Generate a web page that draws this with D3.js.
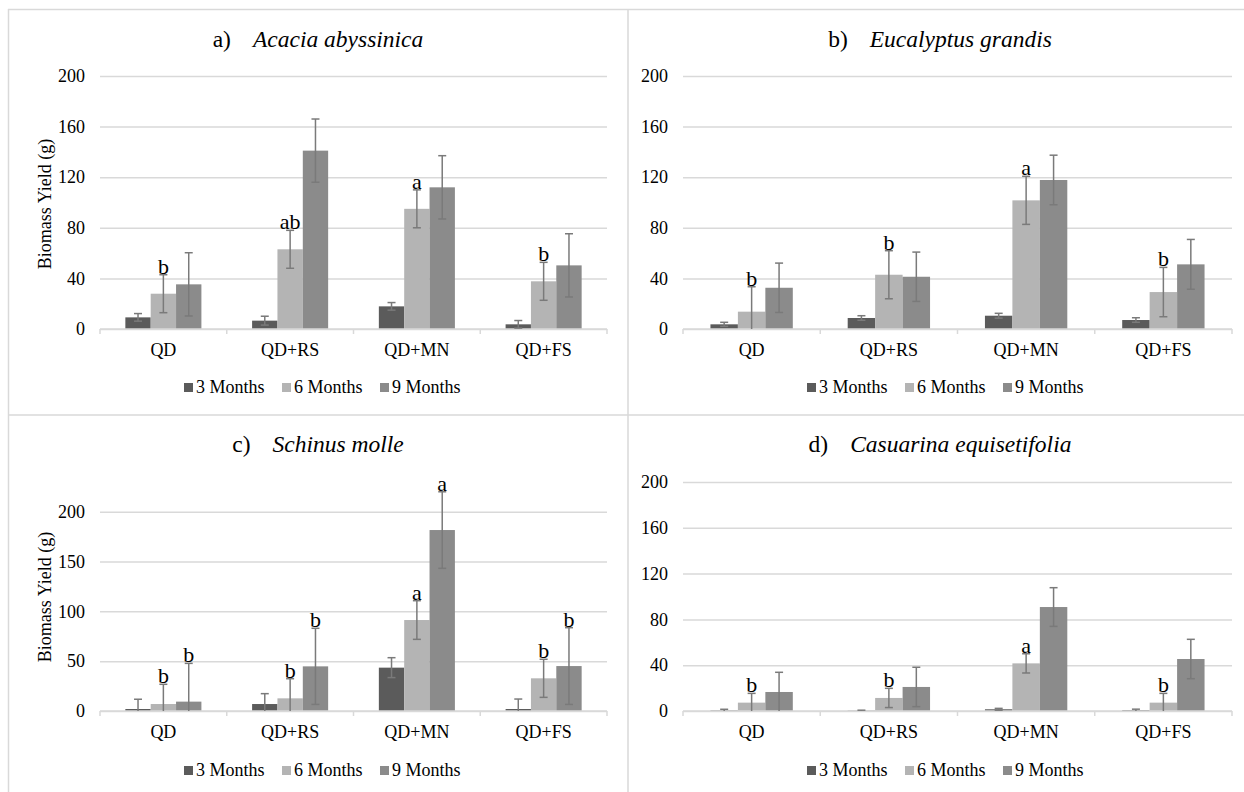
<!DOCTYPE html>
<html>
<head>
<meta charset="utf-8">
<script src="https://cdn.jsdelivr.net/npm/d3@7"></script>
<style>
  body { margin: 0; background: #fff; }
</style>
</head>
<body>
<div id="chart"></div>
<script>
// categories and series
var categories = ["QD", "QD+RS", "QD+MN", "QD+FS"];
var seriesNames = ["3 Months", "6 Months", "9 Months"];
var seriesColors = ["#5b5b5b", "#b4b4b4", "#8b8b8b"];

// tick labels
var ticks40 = [0, 40, 80, 120, 160, 200];
var ticks50 = [0, 50, 100, 150, 200];

// a) Acacia abyssinica  (rows = categories, cols = 3/6/9 months)
var acaciaMeans = [[9.2, 27.9, 35.3], [6.6, 63, 141], [17.9, 95, 112], [3.7, 37.7, 50.3]];
var acaciaErr = [[3, 15, 25], [3.5, 15, 25], [3, 15, 25], [3, 15, 25]];
var acaciaLetters = [["", "b", ""], ["", "ab", ""], ["", "a", ""], ["", "b", ""]];

// b) Eucalyptus grandis
var eucaMeans = [[3.7, 13.7, 32.6], [8.7, 42.9, 41.3], [10.5, 101.7, 117.8], [7.1, 29.2, 51.1]];
var eucaErr = [[1.6, 19.7, 19.5], [1.8, 19, 19.5], [1.9, 19, 19.6], [1.8, 19.5, 19.7]];
var eucaLetters = [["", "b", ""], ["", "b", ""], ["", "a", ""], ["", "b", ""]];

// c) Schinus molle
var schinusMeans = [[2, 7, 9.4], [7, 12.7, 44.8], [43.5, 91.3, 181.6], [2, 32.8, 45.1]];
var schinusErr = [[9.8, 19.8, 38.4], [10.4, 19.7, 38.2], [10, 19.4, 38.4], [10, 19.1, 38.5]];
var schinusLetters = [["", "b", "b"], ["", "b", "b"], ["", "a", "a"], ["", "b", "b"]];

// d) Casuarina equisetifolia
var casuMeans = [[0.5, 7.3, 16.6], [0.3, 11.4, 21], [1.5, 41.6, 90.8], [0.8, 7.3, 45.4]];
var casuErr = [[1, 8.1, 17.2], [0.4, 8.4, 17.2], [0.8, 8.4, 16.9], [0.8, 8.1, 17.2]];
var casuLetters = [["", "b", ""], ["", "b", ""], ["", "a", ""], ["", "b", ""]];

var W = 1244, H = 792;
var grid = "#d9d9d9";
var serif = "Liberation Serif";

var svg = d3.select("#chart").append("svg")
    .attr("width", W)
    .attr("height", H)
    .attr("font-family", serif);

// every text gets the serif face explicitly
function txt(sel, size) {
  return sel.attr("font-family", serif)
      .style("font-family", serif)
      .style("font-size", size + "px")
      .attr("fill", "#000");
}

// panel frame lines
var frame = svg.append("g").attr("stroke", grid).attr("stroke-width", 1.5);
frame.append("line").attr("x1", 8).attr("x2", W).attr("y1", 9.5).attr("y2", 9.5);
frame.append("line").attr("x1", 8.5).attr("x2", 8.5).attr("y1", 9).attr("y2", H);
frame.append("line").attr("x1", 628).attr("x2", 628).attr("y1", 9).attr("y2", H);
frame.append("line").attr("x1", 8).attr("x2", W).attr("y1", 415).attr("y2", 415);

var panels = [
  {label: "a)", name: "Acacia abyssinica", means: acaciaMeans, errs: acaciaErr, letters: acaciaLetters,
   ticks: ticks40, yTitle: true, x0: 100, x1: 607, y0: 329, yTop: 76, cx: 318, legCx: 322,
   titleY: 47, catY: 356, legY: 393, yTitleY: 204},
  {label: "b)", name: "Eucalyptus grandis", means: eucaMeans, errs: eucaErr, letters: eucaLetters,
   ticks: ticks40, yTitle: false, x0: 683, x1: 1232, y0: 329, yTop: 76, cx: 940, legCx: 945,
   titleY: 47, catY: 356, legY: 393},
  {label: "c)", name: "Schinus molle", means: schinusMeans, errs: schinusErr, letters: schinusLetters,
   ticks: ticks50, yTitle: true, x0: 100, x1: 607, y0: 711, yTop: 511.7, cx: 318, legCx: 322,
   titleY: 452, catY: 738, legY: 776, yTitleY: 597},
  {label: "d)", name: "Casuarina equisetifolia", means: casuMeans, errs: casuErr, letters: casuLetters,
   ticks: ticks40, yTitle: false, x0: 683, x1: 1232, y0: 711, yTop: 482, cx: 940, legCx: 945,
   titleY: 452, catY: 738, legY: 776}
];

panels.forEach(drawPanel);

function drawPanel(p) {
  var g = svg.append("g");

  var x = d3.scaleBand().domain(categories).range([p.x0, p.x1]);
  var xs = d3.scaleBand().domain(seriesNames).range([0, x.bandwidth()])
      .paddingInner(0).paddingOuter(1);
  var y = d3.scaleLinear().domain([0, 200]).range([p.y0, p.yTop]);

  // title
  var t = txt(g.append("text"), 23.5)
      .attr("x", p.cx).attr("y", p.titleY)
      .attr("text-anchor", "middle");
  t.append("tspan").text(p.label);
  t.append("tspan").attr("dx", 22).style("font-style", "italic").text(p.name);

  // gridlines + y labels
  var yAxis = g.append("g")
      .attr("transform", "translate(" + p.x0 + ",0)")
      .call(d3.axisLeft(y).tickValues(p.ticks).tickSize(-(p.x1 - p.x0)).tickPadding(15));
  yAxis.attr("font-family", serif);
  yAxis.select(".domain").remove();
  yAxis.selectAll(".tick line").attr("stroke", grid).attr("stroke-width", 1.5);
  txt(yAxis.selectAll(".tick text"), 18);

  if (p.yTitle) {
    txt(g.append("text"), 18)
        .attr("transform", "translate(45," + p.yTitleY + ") rotate(-90)")
        .attr("text-anchor", "middle")
        .attr("dominant-baseline", "central")
        .text("Biomass Yield (g)");
  }

  // bars
  var rows = [];
  categories.forEach(function(c, i) {
    seriesNames.forEach(function(s, j) {
      rows.push({cat: c, s: s, j: j, v: p.means[i][j], e: p.errs[i][j], letter: p.letters[i][j]});
    });
  });

  g.selectAll("rect.bar")
      .data(rows)
      .enter().append("rect")
      .attr("class", "bar")
      .attr("x", function(d) { return x(d.cat) + xs(d.s); })
      .attr("y", function(d) { return y(d.v); })
      .attr("width", xs.bandwidth())
      .attr("height", function(d) { return y(0) - y(d.v); })
      .attr("fill", function(d) { return seriesColors[d.j]; });

  // axis line with category boundary ticks
  g.append("line")
      .attr("x1", p.x0).attr("x2", p.x1)
      .attr("y1", y(0)).attr("y2", y(0))
      .attr("stroke", grid).attr("stroke-width", 1.5);
  var bounds = categories.map(function(c) { return x(c); }).concat([p.x1]);
  g.selectAll("line.btick")
      .data(bounds)
      .enter().append("line")
      .attr("x1", function(d) { return d; }).attr("x2", function(d) { return d; })
      .attr("y1", y(0)).attr("y2", y(0) + 5)
      .attr("stroke", grid).attr("stroke-width", 1.5);

  // category labels
  txt(g.selectAll("text.cat")
      .data(categories)
      .enter().append("text"), 18)
      .attr("x", function(d) { return x(d) + x.bandwidth() / 2; })
      .attr("y", p.catY)
      .attr("text-anchor", "middle")
      .text(function(d) { return d; });

  // error bars
  var eb = g.selectAll("g.err")
      .data(rows)
      .enter().append("g")
      .attr("stroke", "#7a7a7a")
      .attr("stroke-width", 1.5);
  eb.each(function(d) {
    var cx = x(d.cat) + xs(d.s) + xs.bandwidth() / 2;
    var lo = Math.max(0, d.v - d.e), hi = d.v + d.e;
    var e = d3.select(this);
    e.append("line").attr("x1", cx).attr("x2", cx).attr("y1", y(lo)).attr("y2", y(hi));
    e.append("line").attr("x1", cx - 4).attr("x2", cx + 4).attr("y1", y(hi)).attr("y2", y(hi));
    if (d.v - d.e > 0) {
      e.append("line").attr("x1", cx - 4).attr("x2", cx + 4).attr("y1", y(lo)).attr("y2", y(lo));
    }
  });

  // significance letters
  txt(g.selectAll("text.letter")
      .data(rows.filter(function(d) { return d.letter; }))
      .enter().append("text"), 22)
      .attr("x", function(d) { return x(d.cat) + xs(d.s) + xs.bandwidth() / 2; })
      .attr("y", function(d) { return y(d.v + d.e) - 1; })
      .attr("text-anchor", "middle")
      .text(function(d) { return d.letter; });

  // legend
  var step = 98;
  var leg = g.append("g");
  seriesNames.forEach(function(s, j) {
    var lx = p.legCx - 138 + j * step;
    leg.append("rect")
        .attr("x", lx).attr("y", p.legY - 10)
        .attr("width", 9).attr("height", 9)
        .attr("fill", seriesColors[j]);
    txt(leg.append("text"), 18)
        .attr("x", lx + 12).attr("y", p.legY)
        .text(s);
  });
}
</script>
</body>
</html>
